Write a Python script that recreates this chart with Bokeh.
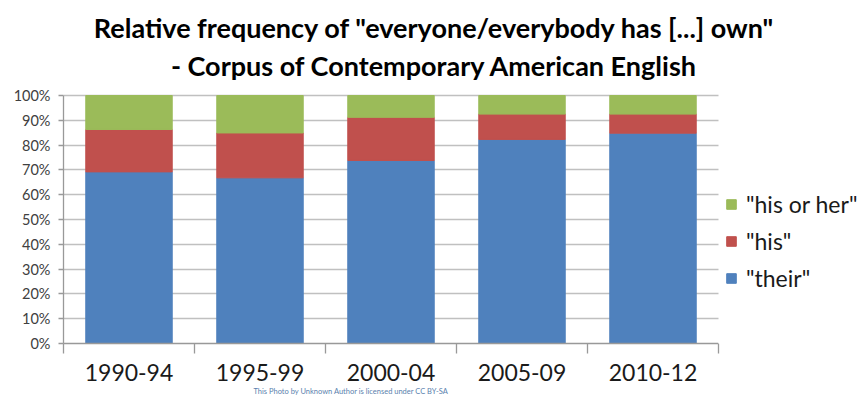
import numpy as np
from bokeh.plotting import figure
from bokeh.models import (Range1d, FixedTicker, NumeralTickFormatter, Legend, LegendItem,
                          ColumnDataSource, Title, Label, BoxAnnotation)
from bokeh.embed import file_html
from bokeh.resources import INLINE

categories = ["1990-94", "1995-99", "2000-04", "2005-09", "2010-12"]
their = [0.692, 0.668, 0.738, 0.823, 0.848]
his = [0.171, 0.181, 0.174, 0.102, 0.077]
his_or_her = [0.137, 0.151, 0.088, 0.075, 0.075]
series = ['"their"', '"his"', '"his or her"']
colors = ["#4F81BD", "#C0504D", "#9BBB59"]
y_ticks = [i / 10 for i in range(11)]
title_lines = ['Relative frequency of "everyone/everybody has [...] own"',
               "- Corpus of Contemporary American English"]
credit = "This Photo by Unknown Author is licensed under CC BY-SA"

FONT = "Lato"
W, H = 860, 397
LEFT = 63            # frame left edge (px)
AXIS_Y = 343         # x-axis position (px from top)
CAT_PX = 131.0       # pixels per category
UNIT_PX = 248.0      # pixels for 100%

n = len(categories)
xs = list(np.arange(n) + 0.5)
src = ColumnDataSource(dict(x=xs, their=their, his=his, hoh=his_or_her))

p = figure(width=W, height=H, output_backend="svg", toolbar_location=None,
           x_range=Range1d(0, (W - LEFT) / CAT_PX), y_range=Range1d(0, AXIS_Y / UNIT_PX),
           min_border_left=LEFT, min_border_right=0, min_border_top=0, min_border_bottom=0)
p.outline_line_color = None
p.background_fill_color = "white"

rs = p.vbar_stack(["their", "his", "hoh"], x="x", width=0.66, source=src,
                  color=colors, line_color=colors)

# x axis (category boundaries get ticks, labels at centres)
p.xaxis.bounds = (0, n)
p.xaxis.ticker = FixedTicker(ticks=xs, minor_ticks=list(range(n + 1)))
p.xaxis.major_label_overrides = {x: c for x, c in zip(xs, categories)}
p.xaxis.major_tick_out = 0
p.xaxis.major_tick_in = 0
p.xaxis.minor_tick_out = 10
p.xaxis.minor_tick_in = 0
p.xaxis.minor_tick_line_color = "#999999"
p.xaxis.minor_tick_line_width = 1.3
p.xaxis.axis_line_color = "#999999"
p.xaxis.axis_line_width = 1.3
p.xaxis.major_label_text_font = FONT
p.xaxis.major_label_text_font_size = "23px"
p.xaxis.major_label_text_color = "#1a1a1a"
p.xaxis.major_label_standoff = 10

# y axis
p.yaxis.bounds = (0, 1)
p.yaxis.ticker = FixedTicker(ticks=y_ticks, minor_ticks=[])
p.yaxis.formatter = NumeralTickFormatter(format="0%")
p.yaxis.major_tick_out = 5
p.yaxis.major_tick_in = 0
p.yaxis.major_tick_line_color = "#999999"
p.yaxis.major_tick_line_width = 1.3
p.yaxis.axis_line_color = "#999999"
p.yaxis.axis_line_width = 1.3
p.yaxis.major_label_text_font = FONT
p.yaxis.major_label_text_font_size = "14.5px"
p.yaxis.major_label_text_color = "#404040"
p.yaxis.major_label_standoff = 8

p.xgrid.grid_line_color = None
p.ygrid.grid_line_color = "#C0C0C0"
p.ygrid.grid_line_width = 1.5

# keep gridlines inside the category area only
p.add_layout(BoxAnnotation(left=n, bottom=-0.01, top=1.01, fill_color="white", fill_alpha=1,
                           line_color=None))

# legend
legend = Legend(items=[LegendItem(label=s, renderers=[r]) for s, r in reversed(list(zip(series, rs)))],
                location=(662, 51), orientation="vertical")
legend.label_text_font = FONT
legend.label_text_font_size = "23px"
legend.label_text_color = "#1a1a1a"
legend.glyph_width = 12
legend.glyph_height = 12
legend.label_height = 25
legend.spacing = 9
legend.padding = 0
legend.margin = 0
legend.border_line_color = None
legend.background_fill_alpha = 0
legend.label_standoff = 9
p.add_layout(legend, "center")

# title (inside the extended frame)
def dx(px):
    return (px - LEFT) / CAT_PX
def dy(py):
    return (AXIS_Y - py) / UNIT_PX

for line, base in zip(title_lines, [27, 65]):
    p.add_layout(Label(x=dx(434), y=dy(base), text=line, text_font=FONT, text_font_style="bold",
                       text_font_size="27px", text_align="center", text_baseline="alphabetic",
                       text_color="black"))

# credit line below the axis
p.add_layout(Title(text=credit, align="left", text_font=FONT, text_font_style="normal",
                   text_font_size="7.5px", text_color="#5a7fae", standoff=3, offset=190), "below")

open("out.html", "w").write(file_html(p, INLINE))
